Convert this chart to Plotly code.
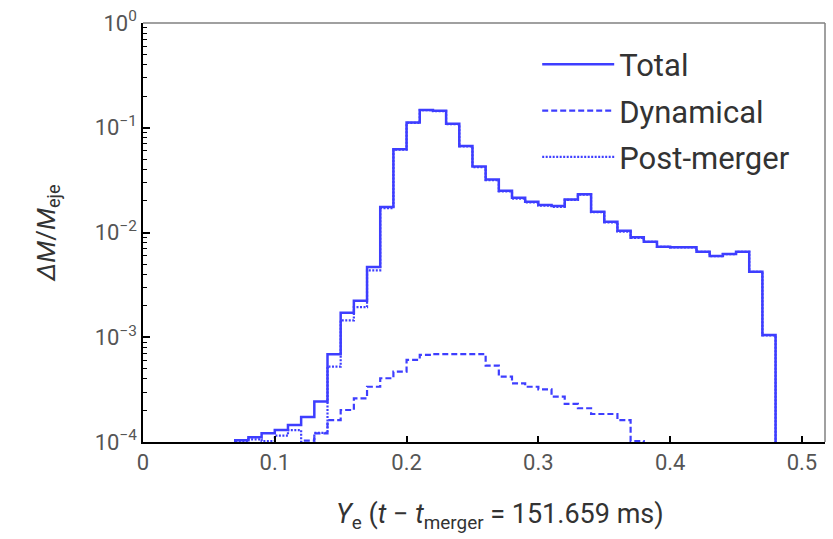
import plotly.graph_objects as go

# ---- data ----
bin_edges_total = [0.07, 0.08, 0.09, 0.10, 0.11, 0.12, 0.13, 0.14, 0.15, 0.16, 0.17,
                   0.18, 0.19, 0.20, 0.21, 0.22, 0.23, 0.24, 0.25, 0.26, 0.27, 0.28,
                   0.29, 0.30, 0.31, 0.32, 0.33, 0.34, 0.35, 0.36, 0.37, 0.38, 0.39,
                   0.40, 0.41, 0.42, 0.43, 0.44, 0.45, 0.46, 0.47, 0.48]
total = [1.04e-4, 1.11e-4, 1.21e-4, 1.30e-4, 1.45e-4, 1.73e-4, 2.43e-4, 6.87e-4,
         1.71e-3, 2.23e-3, 4.69e-3, 1.75e-2, 6.22e-2, 0.112, 0.148, 0.145, 0.109,
         0.067, 0.0427, 0.0321, 0.0251, 0.0215, 0.0197, 0.0183, 0.0179, 0.0207,
         0.0232, 0.0158, 0.0127, 0.0104, 0.0090, 0.00817, 0.00731, 0.00722, 0.00722,
         0.00656, 0.00597, 0.00624, 0.00656, 0.00423, 0.00105]
post_merger = [1.02e-4, 1.06e-4, 1.02e-4, 1.15e-4, 1.30e-4, 7.0e-5, 1.22e-4, 5.25e-4,
               1.45e-3, 1.94e-3, 4.35e-3, 1.71e-2, 6.17e-2, 0.1111, 0.1473, 0.1443,
               0.1083, 0.0663, 0.0420, 0.0316, 0.0247, 0.0211, 0.0194, 0.0180, 0.0176,
               0.0205, 0.0230, 0.0156, 0.0125, 0.0102, 0.0089, 0.00815, 0.0073, 0.0072,
               0.0072, 0.00655, 0.00596, 0.00623, 0.00655, 0.00422, 0.00104]
bin_edges_dyn = [0.12, 0.13, 0.14, 0.15, 0.16, 0.17, 0.18, 0.19, 0.20, 0.21, 0.22,
                 0.23, 0.24, 0.25, 0.26, 0.27, 0.28, 0.29, 0.30, 0.31, 0.32, 0.33,
                 0.34, 0.35, 0.36, 0.37, 0.38]
dynamical = [1.03e-4, 1.21e-4, 1.62e-4, 2.02e-4, 2.61e-4, 3.37e-4, 4.06e-4, 4.69e-4,
             6.07e-4, 6.8e-4, 6.9e-4, 6.9e-4, 6.9e-4, 6.9e-4, 5.35e-4, 4.2e-4,
             3.63e-4, 3.37e-4, 3.18e-4, 2.71e-4, 2.31e-4, 2.10e-4, 1.85e-4, 1.85e-4,
             1.62e-4, 1.02e-4]

x_ticks = [0, 0.1, 0.2, 0.3, 0.4, 0.5]
x_ticktext = ["0", "0.1", "0.2", "0.3", "0.4", "0.5"]
y_ticks = [1e-4, 1e-3, 1e-2, 1e-1, 1]
y_ticktext = ["10<sup>−4</sup>", "10<sup>−3</sup>", "10<sup>−2</sup>",
              "10<sup>−1</sup>", "10<sup>0</sup>"]
x_title = "<i>Y</i><sub>e</sub> (<i>t</i> − <i>t</i><sub>merger</sub> = 151.659 ms)"
y_title = "<i>ΔM</i>/<i>M</i><sub>eje</sub>"

FLOOR = 1e-8  # value used to draw the histogram edges down to the axis


def step(edges, vals):
    xs = [edges[0]] + list(edges[:-1]) + [edges[-1]]
    ys = [FLOOR] + list(vals) + [FLOOR]
    return xs, ys


BLUE = "rgb(62,62,255)"
FONT = "Roboto, 'DejaVu Sans', sans-serif"

fig = go.Figure()
for name, edges, vals, dash, w in [
    ("Total", bin_edges_total, total, "solid", 2.5),
    ("Dynamical", bin_edges_dyn, dynamical, "6px,3px", 2.2),
    ("Post-merger", bin_edges_total, post_merger, "2px,1.5px", 2.2),
]:
    xs, ys = step(edges, vals)
    fig.add_trace(go.Scatter(x=xs, y=ys, mode="lines", name=name,
                             line=dict(color=BLUE, width=w, dash=dash, shape="hv"),
                             legendgroup=name))

minor_vals = [m * 10 ** e for e in range(-4, 0) for m in range(2, 10)]

fig.update_layout(
    width=833, height=539,
    margin=dict(l=143, r=8, t=23, b=97),
    plot_bgcolor="white", paper_bgcolor="white",
    font=dict(family=FONT, color="#333"),
    showlegend=True,
    legend=dict(x=0.578, y=0.965, xanchor="left", yanchor="top",
                font=dict(size=31, color="#333", family=FONT),
                bgcolor="rgba(0,0,0,0)", itemwidth=72,
                tracegroupgap=3, traceorder="grouped"),
    xaxis=dict(range=[0, 0.5175], tickvals=x_ticks, ticktext=x_ticktext,
               ticks="inside", ticklen=6, tickwidth=1.5, tickcolor="black",
               showline=True, linecolor="black", linewidth=1.5,
               showgrid=False, zeroline=False,
               tickfont=dict(size=22, color="#555", family=FONT)),
    yaxis=dict(type="log", range=[-4, 0], tickvals=y_ticks, ticktext=y_ticktext,
               ticks="inside", ticklen=7, tickwidth=1.5, tickcolor="black",
               minor=dict(tickvals=minor_vals, ticks="inside", ticklen=4,
                          tickwidth=1, tickcolor="black", showgrid=False),
               showline=True, linecolor="black", linewidth=1.5,
               showgrid=False, zeroline=False,
               tickfont=dict(size=22, color="#555", family=FONT),
               title=dict(text=y_title,
                          font=dict(size=26, color="#333", family=FONT), standoff=32)),
)

# x-axis title placed as in the reference (slightly right of centre)
fig.add_annotation(text=x_title, xref="paper", yref="paper", x=0.523, y=-0.176,
                   xanchor="center", yanchor="middle", showarrow=False,
                   font=dict(size=27, color="#333", family=FONT))

# gray top and right frame lines
fig.add_shape(type="line", xref="paper", yref="paper", x0=0, x1=1, y0=1, y1=1,
              line=dict(color="#808080", width=1.5))
fig.add_shape(type="line", xref="paper", yref="paper", x0=1, x1=1, y0=0, y1=1,
              line=dict(color="#808080", width=1.5))

fig.write_html("out.html")
